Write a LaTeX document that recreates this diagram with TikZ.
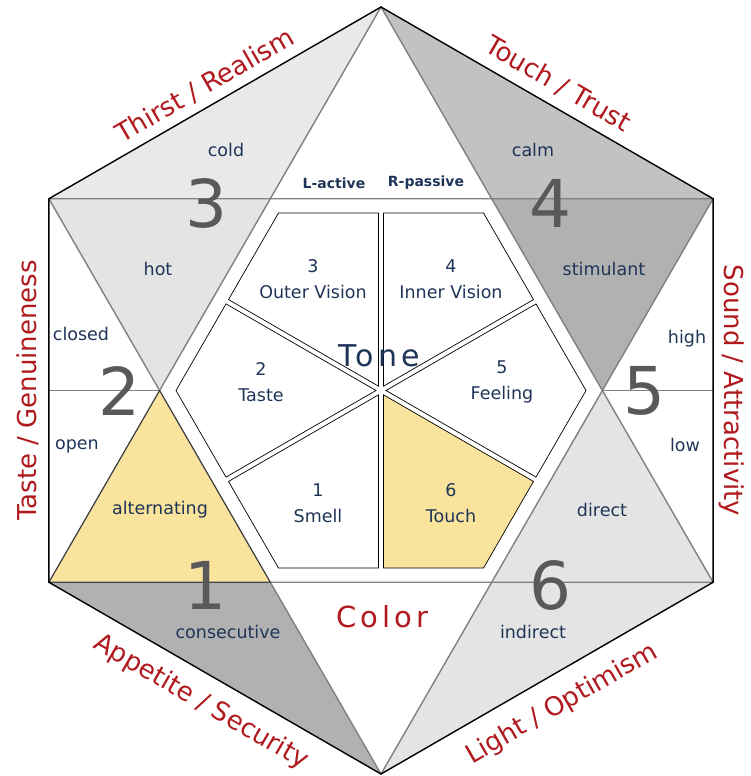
\documentclass[tikz,border=0pt]{standalone}
\usepackage{fontspec}
\setmainfont{DejaVu Sans}
\newfontfamily\spacedfont[LetterSpace=14]{DejaVu Sans}
\definecolor{navy}{HTML}{1F3558}
\definecolor{outred}{HTML}{B0191E}
\definecolor{numgrey}{HTML}{595959}
\definecolor{lightA}{HTML}{E9E9E9}
\definecolor{lightB}{HTML}{E4E4E4}
\definecolor{midA}{HTML}{C2C2C2}
\definecolor{midB}{HTML}{B1B1B1}
\definecolor{yellowfill}{HTML}{FAE39C}
\definecolor{starline}{HTML}{808080}
\begin{document}
\begin{tikzpicture}[x=1pt,y=-1pt,
  hexline/.style={black, line width=1.4pt, line join=miter},
  starlinestyle/.style={starline, line width=1.4pt},
  sector/.style={draw=black, line width=0.7pt},
  lbl/.style={text=navy, font=\fontsize{17.5}{21}\selectfont, inner sep=0pt},
  seclbl/.style={text=navy, font=\fontsize{17.5}{26}\selectfont, align=center, inner sep=0pt},
  bignum/.style={text=numgrey, font=\fontsize{66}{66}\selectfont, inner sep=0pt},
  outer/.style={text=outred, font=\fontsize{26}{30}\selectfont, inner xsep=0pt, midway, sloped},
  outerabove/.style={outer, above, text depth=0pt, inner ysep=#1},
  outerbelow/.style={outer, below, text height=19pt, text depth=0pt, inner ysep=#1},
  lr/.style={text=navy, font=\fontsize{14}{16}\selectfont\bfseries, inner sep=0pt},
]
\useasboundingbox (0,0) rectangle (750,776);
% hexagon vertices
\coordinate (T) at (381,7);
\coordinate (UL) at (48.9,198.75);
\coordinate (UR) at (713.1,198.75);
\coordinate (LL) at (48.9,582.25);
\coordinate (LR) at (713.1,582.25);
\coordinate (B) at (381,774);
\coordinate (C) at (381,390.5);
% inner star vertices
\coordinate (SL) at (159.6,390.5);
\coordinate (SR) at (602.4,390.5);
\coordinate (SUL) at (270.3,198.75);
\coordinate (SUR) at (491.7,198.75);
\coordinate (SLL) at (270.3,582.25);
\coordinate (SLR) at (491.7,582.25);
\coordinate (ML) at (48.9,390.5);
\coordinate (MR) at (713.1,390.5);
% fills
\fill[lightA] (T) -- (UL) -- (SUL) -- cycle;
\fill[lightB] (UL) -- (SUL) -- (SL) -- cycle;
\fill[midA] (T) -- (UR) -- (SUR) -- cycle;
\fill[midB] (UR) -- (SUR) -- (SR) -- cycle;
\fill[midB] (LL) -- (SLL) -- (B) -- cycle;
\fill[lightB] (LR) -- (SLR) -- (SR) -- cycle;
\fill[lightB] (LR) -- (SLR) -- (B) -- cycle;
\fill[yellowfill] (LL) -- (SL) -- (SLL) -- cycle;
% star lines
\draw[starlinestyle] (T) -- (LL) -- (LR) -- cycle;
\draw[starlinestyle] (UL) -- (UR) -- (B) -- cycle;
\draw[starlinestyle] (ML) -- (SL) (SR) -- (MR);
\draw[black!85, line width=0.6pt] (LL) -- (SL) -- (SLL) -- cycle;
% hexagon outline
\draw[hexline] (T) -- (UR) -- (LR) -- (B) -- (LL) -- (UL) -- cycle;
% inner sectors
\foreach \ang/\fc in {0/white,60/white,120/white,180/white,240/white,300/yellowfill} {
  \draw[sector, fill=\fc, shift={(C)}, rotate=\ang] (5,0) -- (155,86.6) -- (205,0) -- (155,-86.6) -- cycle;
}
% outer labels
\path (UL) -- (T) node[outerabove=11pt] (thirst) {Thirst / Realism};
\path (T) -- (UR) node[outerabove=13pt] (touchtrust) {Touch / Trust};
\path (LL) -- (UL) node[outerabove=12pt] (taste) {Taste / Genuineness};
\path (UR) -- (LR) node[outerabove=11pt] (sound) {Sound / Attractivity};
\path (LL) -- (B) node[outerbelow=16pt] (appetite) {Appetite / Security};
\path (B) -- (LR) node[outerbelow=18pt] (light) {Light / Optimism};
% big numbers
\node[bignum] (n3) at (206,203) {3};
\node[bignum] (n4) at (550,203) {4};
\node[bignum] (n2) at (119,391) {2};
\node[bignum] (n5) at (644,391) {5};
\node[bignum] (n1) at (205,585) {1};
\node[bignum] (n6) at (550,585) {6};
% region labels
\node[lbl] (cold) at (226,150) {cold};
\node[lbl] (calm) at (533,150) {calm};
\node[lbl] (hot) at (158,269) {hot};
\node[lbl] (stim) at (604,269) {stimulant};
\node[lbl] (closed) at (81,334) {closed};
\node[lbl] (open) at (77,446) {open};
\node[lbl] (high) at (687,339) {high};
\node[lbl] (low) at (685,445) {low};
\node[lbl] (alt) at (160,510) {alternating};
\node[lbl] (direct) at (602,510) {direct};
\node[lbl] (consec) at (228,632) {consecutive};
\node[lbl] (indirect) at (533,632) {indirect};
\node[lr] (lactive) at (334,183) {L-active};
\node[lr] (rpassive) at (426,183) {R-passive};
% sector labels
\node[seclbl] (s3) at (313,279) {3\\Outer Vision};
\node[seclbl] (s4) at (451,279) {4\\Inner Vision};
\node[seclbl] (s2) at (261,382) {2\\Taste};
\node[seclbl] (s5) at (502,382) {5\\Feeling};
\node[seclbl] (s1) at (318,503) {1\\Smell};
\node[seclbl] (s6) at (451,503) {6\\Touch};
% centre words
\node[text=navy, font=\fontsize{30}{30}\spacedfont, inner sep=0pt] (tone) at (379,356) {Tone};
\node[text=outred, font=\fontsize{29}{30}\spacedfont, inner sep=0pt] (color) at (382,617) {Color};
\end{tikzpicture}
\end{document}
